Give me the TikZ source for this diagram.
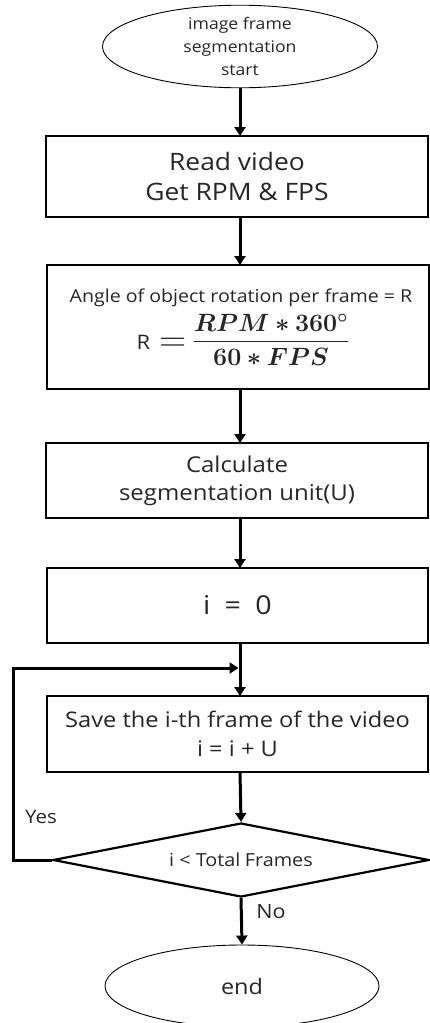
\RequirePackage{fix-cm}
\documentclass[tikz,border=0pt]{standalone}
\usepackage[no-math]{fontspec}
\setmainfont{Open Sans}[FakeStretch=1.1]
\usepackage{amsmath,bm}
\usetikzlibrary{shapes.geometric,arrows.meta}

\newcommand{\fs}[2]{\fontsize{#1}{#2}\selectfont}

\begin{document}
\begin{tikzpicture}[x=1pt,y=-1pt,
  every node/.style={text=black!85},
  box/.style={draw=black,line width=2pt,rectangle,inner sep=0pt,align=center},
  term/.style={draw=black,line width=0.9pt,ellipse,inner sep=0pt,align=center},
  decision/.style={draw=black,line width=2.2pt,diamond,aspect=5,inner sep=0pt,align=center},
  flow/.style={draw=black,line width=3pt,-{Triangle[length=9pt,width=11pt]}},
  loopline/.style={draw=black,line width=3pt},
  plain/.style={inner sep=0pt}]

\useasboundingbox (0,0) rectangle (430,1023);

% process steps
\node[term, minimum width=275, minimum height=81, font=\fs{16}{23}] (start) at (240,46.5)
      {image frame\\segmentation\\start};

\node[box, minimum width=382, minimum height=81, font=\fs{24}{30}] (read) at (237,176.5)
      {Read video\\Get RPM \& FPS};

% rotation angle per frame
\node[box, minimum width=382, minimum height=124] (rate) at (238,327) {};
\node[plain, font=\fs{17.8}{22}, anchor=base] (ratetxt) at (241,302)
      {Angle of object rotation per frame = R};
\node[plain, font=\fs{20}{24}, anchor=base] (rsym) at (143.5,349) {R};
\node[plain, font=\fs{37.5}{40}, anchor=base] (req) at (172.5,351.4) {$=$};
\node[plain, font=\fs{25}{28}, anchor=base] (rfrac) at (271,348.2)
      {$\dfrac{\bm{RPM\ast 360^{\circ}}}{\bm{60\ast FPS}}$};

\node[box, minimum width=382, minimum height=75, font=\fs{21.8}{28}] (calc) at (237,480.5)
      {Calculate\\segmentation unit(U)};

\node[box, minimum width=381, minimum height=75, font=\fs{26}{30}] (init) at (237.5,605.5)
      {i\hspace{0.55em}=\hspace{0.55em}0};

\node[box, minimum width=381, minimum height=76, font=\fs{21.5}{29}] (save) at (237.5,734)
      {Save the i-th frame of the video\\i = i + U};

\node[decision, minimum width=376, minimum height=74, font=\fs{18}{22}] (test) at (241,860)
      {i < Total\hspace{0.25em}Frames};

\node[term, minimum width=274, minimum height=82, font=\fs{21.3}{24}] (stop) at (242,986)
      {end};

% connectors
\coordinate (merge) at (240,668);
\coordinate (back) at (13,860);

\draw[flow] (240,87.5) -- (240,136);
\draw[flow] (240,217) -- (240,265);
\draw[flow] (240,389) -- (240,443);
\draw[flow] (240,518) -- (240,568);
\draw[flow] (240,643) -- (240,696);
\draw[flow] (240,772) -- (test.north);
\draw[flow] (test.south) -- (stop.north);
\draw[loopline] (test.west) -- (back) -- (back |- merge);
\draw[flow, shorten <=-1.5pt] (back |- merge) -- ([xshift=-1.5pt]merge);

% branch labels
\node[plain, font=\fs{18.6}{22}] (yes) at (41,817) {Yes};
\node[plain, font=\fs{19.6}{24}] (no) at (271,912) {No};
\end{tikzpicture}
\end{document}
